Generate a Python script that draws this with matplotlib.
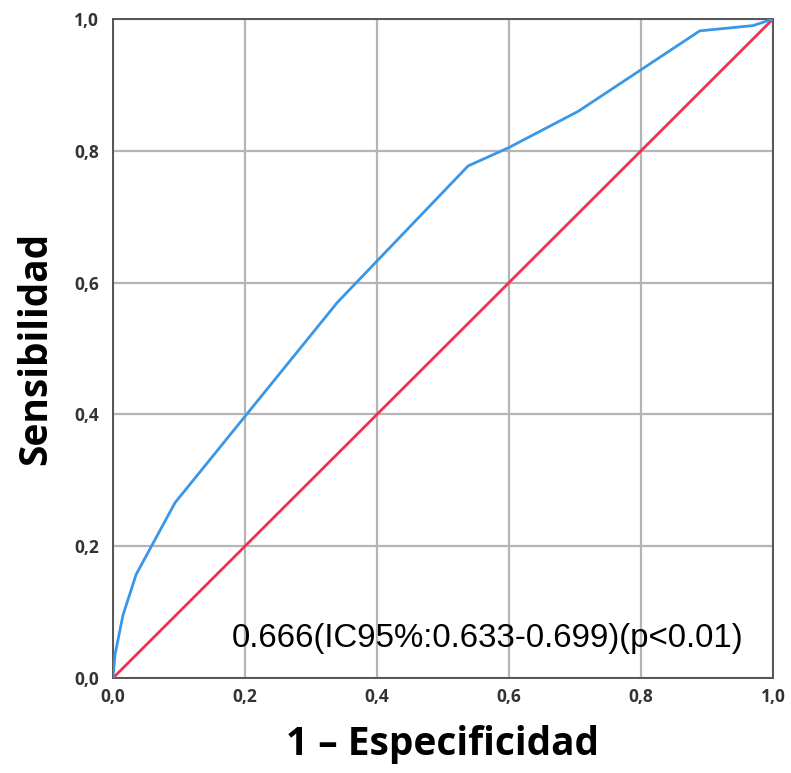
import matplotlib
matplotlib.use("Agg")
import matplotlib.pyplot as plt

boldfam = "Open Sans"
textfam = "Liberation Sans"

# ROC curve (1 - specificity, sensitivity)
fpr = [0.0, 0.003, 0.015, 0.035, 0.094, 0.34, 0.538, 0.60, 0.705, 0.889, 0.97, 1.0]
tpr = [0.0, 0.035, 0.095, 0.157, 0.266, 0.57, 0.777, 0.805, 0.86, 0.982, 0.99, 1.0]
ref_x = [0.0, 1.0]
ref_y = [0.0, 1.0]
ticks = [0.0, 0.2, 0.4, 0.6, 0.8, 1.0]
tick_labels = ["0,0", "0,2", "0,4", "0,6", "0,8", "1,0"]
annot = "0.666(IC95%:0.633-0.699)(p<0.01)"

fig = plt.figure(figsize=(7.91, 7.73), dpi=100)
ax = fig.add_axes([113/791, 1-678/773, 660/791, 659/773])

ax.plot(ref_x, ref_y, color="#f0304f", lw=2.0, zorder=3)
ax.plot(fpr, tpr, color="#3a97e8", lw=2.0, zorder=4)

ax.set_xlim(0, 1)
ax.set_ylim(0, 1)
ax.set_xticks(ticks)
ax.set_yticks(ticks)
ax.set_xticklabels(tick_labels, family=boldfam, fontweight="bold", fontsize=12.5, color="#333333")
ax.set_yticklabels(tick_labels, family=boldfam, fontweight="bold", fontsize=12.5, color="#333333")
ax.tick_params(axis="both", length=0)
ax.tick_params(axis="x", pad=7)
ax.tick_params(axis="y", pad=10)
ax.grid(True, color="#b5b5b5", lw=1.6)
ax.set_axisbelow(True)
for s in ax.spines.values():
    s.set_color("#555555")
    s.set_linewidth(1.4)

ax.set_xlabel("1 \u2013 Especificidad", family=boldfam, fontweight="bold", fontsize=28, labelpad=14)
ax.set_ylabel("Sensibilidad", family=boldfam, fontweight="bold", fontsize=28, labelpad=14)

ax.text(0.18, 0.06, annot, family=textfam, fontsize=23.8, color="black",
        ha="left", va="center", zorder=5)

fig.savefig("out.png", dpi=100)
